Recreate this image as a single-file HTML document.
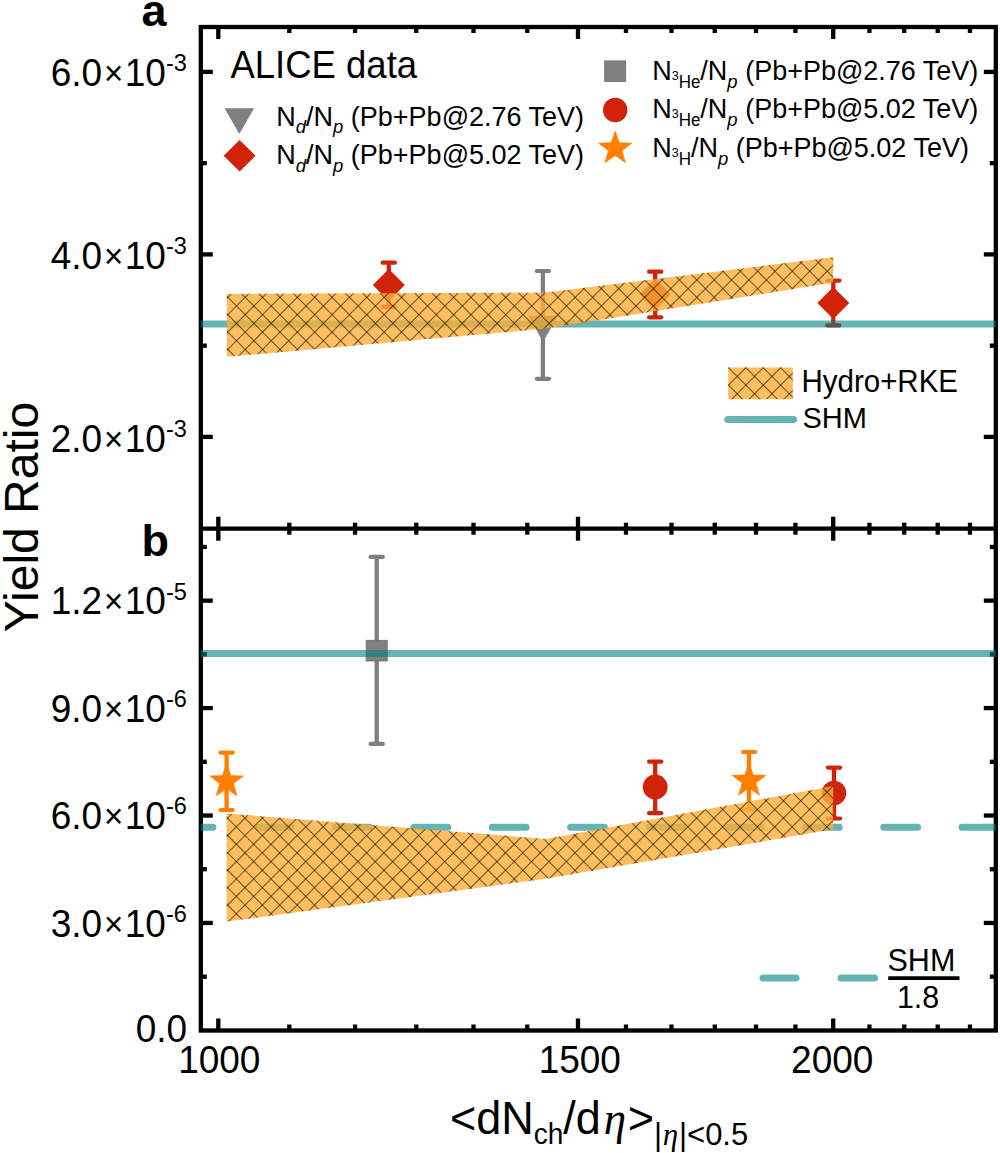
<!DOCTYPE html><html><head><meta charset="utf-8"><style>html,body{margin:0;padding:0;background:#fff;}svg{display:block;}</style></head><body><svg width="1000" height="1153" viewBox="0 0 1000 1153">
<rect width="1000" height="1153" fill="#fff"/>
<rect x="200.8" y="27.0" width="795.0" height="1003.5" fill="none" stroke="#000" stroke-width="4.3"/>
<line x1="200.8" y1="528.7" x2="995.8" y2="528.7" stroke="#000" stroke-width="4.3"/>
<rect x="216.15" y="27.00" width="4.3" height="12.00" fill="#000"/>
<rect x="216.15" y="516.70" width="4.3" height="24.00" fill="#000"/>
<rect x="216.15" y="1018.50" width="4.3" height="12.00" fill="#000"/>
<rect x="575.85" y="27.00" width="4.3" height="12.00" fill="#000"/>
<rect x="575.85" y="516.70" width="4.3" height="24.00" fill="#000"/>
<rect x="575.85" y="1018.50" width="4.3" height="12.00" fill="#000"/>
<rect x="831.06" y="27.00" width="4.3" height="12.00" fill="#000"/>
<rect x="831.06" y="516.70" width="4.3" height="24.00" fill="#000"/>
<rect x="831.06" y="1018.50" width="4.3" height="12.00" fill="#000"/>
<rect x="287.16" y="27.00" width="4.3" height="6.00" fill="#000"/>
<rect x="287.16" y="522.70" width="4.3" height="12.00" fill="#000"/>
<rect x="287.16" y="1024.50" width="4.3" height="6.00" fill="#000"/>
<rect x="352.90" y="27.00" width="4.3" height="6.00" fill="#000"/>
<rect x="352.90" y="522.70" width="4.3" height="12.00" fill="#000"/>
<rect x="352.90" y="1024.50" width="4.3" height="6.00" fill="#000"/>
<rect x="414.11" y="27.00" width="4.3" height="6.00" fill="#000"/>
<rect x="414.11" y="522.70" width="4.3" height="12.00" fill="#000"/>
<rect x="414.11" y="1024.50" width="4.3" height="6.00" fill="#000"/>
<rect x="471.36" y="27.00" width="4.3" height="6.00" fill="#000"/>
<rect x="471.36" y="522.70" width="4.3" height="12.00" fill="#000"/>
<rect x="471.36" y="1024.50" width="4.3" height="6.00" fill="#000"/>
<rect x="525.14" y="27.00" width="4.3" height="6.00" fill="#000"/>
<rect x="525.14" y="522.70" width="4.3" height="12.00" fill="#000"/>
<rect x="525.14" y="1024.50" width="4.3" height="6.00" fill="#000"/>
<rect x="623.82" y="27.00" width="4.3" height="6.00" fill="#000"/>
<rect x="623.82" y="522.70" width="4.3" height="12.00" fill="#000"/>
<rect x="623.82" y="1024.50" width="4.3" height="6.00" fill="#000"/>
<rect x="669.32" y="27.00" width="4.3" height="6.00" fill="#000"/>
<rect x="669.32" y="522.70" width="4.3" height="12.00" fill="#000"/>
<rect x="669.32" y="1024.50" width="4.3" height="6.00" fill="#000"/>
<rect x="712.60" y="27.00" width="4.3" height="6.00" fill="#000"/>
<rect x="712.60" y="522.70" width="4.3" height="12.00" fill="#000"/>
<rect x="712.60" y="1024.50" width="4.3" height="6.00" fill="#000"/>
<rect x="753.87" y="27.00" width="4.3" height="6.00" fill="#000"/>
<rect x="753.87" y="522.70" width="4.3" height="12.00" fill="#000"/>
<rect x="753.87" y="1024.50" width="4.3" height="6.00" fill="#000"/>
<rect x="793.31" y="27.00" width="4.3" height="6.00" fill="#000"/>
<rect x="793.31" y="522.70" width="4.3" height="12.00" fill="#000"/>
<rect x="793.31" y="1024.50" width="4.3" height="6.00" fill="#000"/>
<rect x="867.28" y="27.00" width="4.3" height="6.00" fill="#000"/>
<rect x="867.28" y="522.70" width="4.3" height="12.00" fill="#000"/>
<rect x="867.28" y="1024.50" width="4.3" height="6.00" fill="#000"/>
<rect x="902.07" y="27.00" width="4.3" height="6.00" fill="#000"/>
<rect x="902.07" y="522.70" width="4.3" height="12.00" fill="#000"/>
<rect x="902.07" y="1024.50" width="4.3" height="6.00" fill="#000"/>
<rect x="935.55" y="27.00" width="4.3" height="6.00" fill="#000"/>
<rect x="935.55" y="522.70" width="4.3" height="12.00" fill="#000"/>
<rect x="935.55" y="1024.50" width="4.3" height="6.00" fill="#000"/>
<rect x="967.82" y="27.00" width="4.3" height="6.00" fill="#000"/>
<rect x="967.82" y="522.70" width="4.3" height="12.00" fill="#000"/>
<rect x="967.82" y="1024.50" width="4.3" height="6.00" fill="#000"/>
<rect x="200.80" y="434.75" width="12.00" height="4.3" fill="#000"/>
<rect x="983.80" y="434.75" width="12.00" height="4.3" fill="#000"/>
<rect x="200.80" y="252.25" width="12.00" height="4.3" fill="#000"/>
<rect x="983.80" y="252.25" width="12.00" height="4.3" fill="#000"/>
<rect x="200.80" y="69.75" width="12.00" height="4.3" fill="#000"/>
<rect x="983.80" y="69.75" width="12.00" height="4.3" fill="#000"/>
<rect x="200.80" y="343.50" width="6.00" height="4.3" fill="#000"/>
<rect x="989.80" y="343.50" width="6.00" height="4.3" fill="#000"/>
<rect x="200.80" y="161.00" width="6.00" height="4.3" fill="#000"/>
<rect x="989.80" y="161.00" width="6.00" height="4.3" fill="#000"/>
<rect x="200.80" y="920.81" width="12.00" height="4.3" fill="#000"/>
<rect x="983.80" y="920.81" width="12.00" height="4.3" fill="#000"/>
<rect x="200.80" y="813.37" width="12.00" height="4.3" fill="#000"/>
<rect x="983.80" y="813.37" width="12.00" height="4.3" fill="#000"/>
<rect x="200.80" y="705.93" width="12.00" height="4.3" fill="#000"/>
<rect x="983.80" y="705.93" width="12.00" height="4.3" fill="#000"/>
<rect x="200.80" y="598.49" width="12.00" height="4.3" fill="#000"/>
<rect x="983.80" y="598.49" width="12.00" height="4.3" fill="#000"/>
<rect x="200.80" y="974.53" width="6.00" height="4.3" fill="#000"/>
<rect x="989.80" y="974.53" width="6.00" height="4.3" fill="#000"/>
<rect x="200.80" y="867.09" width="6.00" height="4.3" fill="#000"/>
<rect x="989.80" y="867.09" width="6.00" height="4.3" fill="#000"/>
<rect x="200.80" y="759.65" width="6.00" height="4.3" fill="#000"/>
<rect x="989.80" y="759.65" width="6.00" height="4.3" fill="#000"/>
<rect x="200.80" y="652.21" width="6.00" height="4.3" fill="#000"/>
<rect x="989.80" y="652.21" width="6.00" height="4.3" fill="#000"/>
<rect x="200.80" y="544.77" width="6.00" height="4.3" fill="#000"/>
<rect x="989.80" y="544.77" width="6.00" height="4.3" fill="#000"/>
<clipPath id="pa"><rect x="0" y="0" width="996" height="528.7"/></clipPath>
<g>
<line x1="388.8" y1="262.7" x2="388.8" y2="306.8" stroke="#D0230A" stroke-width="4.3"/><line x1="382.7" y1="262.7" x2="394.90000000000003" y2="262.7" stroke="#D0230A" stroke-width="4.2" stroke-linecap="round"/><line x1="382.7" y1="306.8" x2="394.90000000000003" y2="306.8" stroke="#D0230A" stroke-width="4.2" stroke-linecap="round"/>
<polygon points="388.8,268.9 404.8,284.9 388.8,300.9 372.8,284.9" fill="#D0230A"/>
<line x1="542.9" y1="271.0" x2="542.9" y2="378.8" stroke="#808080" stroke-width="4.3"/><line x1="536.8" y1="271.0" x2="549.0" y2="271.0" stroke="#808080" stroke-width="4.2" stroke-linecap="round"/><line x1="536.8" y1="378.8" x2="549.0" y2="378.8" stroke="#808080" stroke-width="4.2" stroke-linecap="round"/>
<polygon points="528.10,315.8 558.10,315.8 543.10,341.78" fill="#808080"/>
<line x1="655.2" y1="271.7" x2="655.2" y2="317.3" stroke="#D0230A" stroke-width="4.3"/><line x1="649.1" y1="271.7" x2="661.3000000000001" y2="271.7" stroke="#D0230A" stroke-width="4.2" stroke-linecap="round"/><line x1="649.1" y1="317.3" x2="661.3000000000001" y2="317.3" stroke="#D0230A" stroke-width="4.2" stroke-linecap="round"/>
<polygon points="655.2,278.6 670.9000000000001,294.3 655.2,310.0 639.5,294.3" fill="#D0230A"/>
<line x1="833.3" y1="280.6" x2="833.3" y2="325.4" stroke="#D0230A" stroke-width="4.3"/><line x1="827.1999999999999" y1="280.6" x2="839.4" y2="280.6" stroke="#D0230A" stroke-width="4.2" stroke-linecap="round"/><line x1="827.1999999999999" y1="325.4" x2="839.4" y2="325.4" stroke="#D0230A" stroke-width="4.2" stroke-linecap="round"/>
<polygon points="833.3,287.0 849.3,303.0 833.3,319.0 817.3,303.0" fill="#D0230A"/>
<line x1="200.8" y1="324.0" x2="995.8" y2="324.0" stroke="#008080" stroke-opacity="0.6" stroke-width="6.8"/>
<clipPath id="bca"><polygon points="226.80,294.00 545.80,292.50 833.20,257.20 833.20,282.60 545.80,328.60 226.80,356.80"/></clipPath><polygon points="226.80,294.00 545.80,292.50 833.20,257.20 833.20,282.60 545.80,328.60 226.80,356.80" fill="#FCAE37" fill-opacity="0.8"/><g clip-path="url(#bca)"><path d="M221.80,378.15L838.20,994.55M221.80,360.78L838.20,977.18M221.80,343.41L838.20,959.81M221.80,326.04L838.20,942.44M221.80,308.67L838.20,925.07M221.80,291.30L838.20,907.70M221.80,273.93L838.20,890.33M221.80,256.56L838.20,872.96M221.80,239.19L838.20,855.59M221.80,221.82L838.20,838.22M221.80,204.45L838.20,820.85M221.80,187.08L838.20,803.48M221.80,169.71L838.20,786.11M221.80,152.34L838.20,768.74M221.80,134.97L838.20,751.37M221.80,117.60L838.20,734.00M221.80,100.23L838.20,716.63M221.80,82.86L838.20,699.26M221.80,65.49L838.20,681.89M221.80,48.12L838.20,664.52M221.80,30.75L838.20,647.15M221.80,13.38L838.20,629.78M221.80,-3.99L838.20,612.41M221.80,-21.36L838.20,595.04M221.80,-38.73L838.20,577.67M221.80,-56.10L838.20,560.30M221.80,-73.47L838.20,542.93M221.80,-90.84L838.20,525.56M221.80,-108.21L838.20,508.19M221.80,-125.58L838.20,490.82M221.80,-142.95L838.20,473.45M221.80,-160.32L838.20,456.08M221.80,-177.69L838.20,438.71M221.80,-195.06L838.20,421.34M221.80,-212.43L838.20,403.97M221.80,-229.80L838.20,386.60M221.80,-247.17L838.20,369.23M221.80,-264.54L838.20,351.86M221.80,-281.91L838.20,334.49M221.80,-299.28L838.20,317.12M221.80,-316.65L838.20,299.75M221.80,-334.02L838.20,282.38M221.80,-351.39L838.20,265.01M221.80,-368.76L838.20,247.64M221.80,-386.13L838.20,230.27" stroke="#000" stroke-opacity="0.52" stroke-width="1.15" fill="none"/><path d="M221.80,233.87L838.20,-382.53M221.80,251.24L838.20,-365.16M221.80,268.61L838.20,-347.79M221.80,285.98L838.20,-330.42M221.80,303.35L838.20,-313.05M221.80,320.72L838.20,-295.68M221.80,338.09L838.20,-278.31M221.80,355.46L838.20,-260.94M221.80,372.83L838.20,-243.57M221.80,390.20L838.20,-226.20M221.80,407.57L838.20,-208.83M221.80,424.94L838.20,-191.46M221.80,442.31L838.20,-174.09M221.80,459.68L838.20,-156.72M221.80,477.05L838.20,-139.35M221.80,494.42L838.20,-121.98M221.80,511.79L838.20,-104.61M221.80,529.16L838.20,-87.24M221.80,546.53L838.20,-69.87M221.80,563.90L838.20,-52.50M221.80,581.27L838.20,-35.13M221.80,598.64L838.20,-17.76M221.80,616.01L838.20,-0.39M221.80,633.38L838.20,16.98M221.80,650.75L838.20,34.35M221.80,668.12L838.20,51.72M221.80,685.49L838.20,69.09M221.80,702.86L838.20,86.46M221.80,720.23L838.20,103.83M221.80,737.60L838.20,121.20M221.80,754.97L838.20,138.57M221.80,772.34L838.20,155.94M221.80,789.71L838.20,173.31M221.80,807.08L838.20,190.68M221.80,824.45L838.20,208.05M221.80,841.82L838.20,225.42M221.80,859.19L838.20,242.79M221.80,876.56L838.20,260.16M221.80,893.93L838.20,277.53M221.80,911.30L838.20,294.90M221.80,928.67L838.20,312.27M221.80,946.04L838.20,329.64M221.80,963.41L838.20,347.01M221.80,980.78L838.20,364.38M221.80,998.15L838.20,381.75" stroke="#000" stroke-opacity="0.52" stroke-width="1.15" fill="none"/></g>
</g>
<line x1="376.7" y1="556.9" x2="376.7" y2="743.9" stroke="#808080" stroke-width="4.3"/><line x1="370.59999999999997" y1="556.9" x2="382.8" y2="556.9" stroke="#808080" stroke-width="4.2" stroke-linecap="round"/><line x1="370.59999999999997" y1="743.9" x2="382.8" y2="743.9" stroke="#808080" stroke-width="4.2" stroke-linecap="round"/>
<rect x="366.15" y="640.3" width="21.099999999999977" height="20.7" fill="#808080" stroke="#6e6e6e" stroke-width="0.8"/>
<line x1="226.6" y1="752.6" x2="226.6" y2="810.0" stroke="#FF8000" stroke-width="4.3"/><line x1="220.5" y1="752.6" x2="232.7" y2="752.6" stroke="#FF8000" stroke-width="4.2" stroke-linecap="round"/><line x1="220.5" y1="810.0" x2="232.7" y2="810.0" stroke="#FF8000" stroke-width="4.2" stroke-linecap="round"/>
<polygon points="226.60,763.80 230.79,775.63 243.34,775.96 233.38,783.60 236.95,795.64 226.60,788.53 216.25,795.64 219.82,783.60 209.86,775.96 222.41,775.63" fill="#FF8000" stroke="#FF8000" stroke-width="0.8" stroke-linejoin="round"/>
<line x1="655.2" y1="761.6" x2="655.2" y2="813.2" stroke="#D0230A" stroke-width="4.3"/><line x1="649.1" y1="761.6" x2="661.3000000000001" y2="761.6" stroke="#D0230A" stroke-width="4.2" stroke-linecap="round"/><line x1="649.1" y1="813.2" x2="661.3000000000001" y2="813.2" stroke="#D0230A" stroke-width="4.2" stroke-linecap="round"/>
<circle cx="655.2" cy="787.0" r="12.4" fill="#D0230A"/>
<line x1="749.0" y1="752.0" x2="749.0" y2="809.5" stroke="#FF8000" stroke-width="4.3"/><line x1="742.9" y1="752.0" x2="755.1" y2="752.0" stroke="#FF8000" stroke-width="4.2" stroke-linecap="round"/><line x1="742.9" y1="809.5" x2="755.1" y2="809.5" stroke="#FF8000" stroke-width="4.2" stroke-linecap="round"/>
<polygon points="749.00,763.20 753.19,775.03 765.74,775.36 755.78,783.00 759.35,795.04 749.00,787.93 738.65,795.04 742.22,783.00 732.26,775.36 744.81,775.03" fill="#FF8000" stroke="#FF8000" stroke-width="0.8" stroke-linejoin="round"/>
<line x1="834.0" y1="767.6" x2="834.0" y2="818.5" stroke="#D0230A" stroke-width="4.3"/><line x1="827.9" y1="767.6" x2="840.1" y2="767.6" stroke="#D0230A" stroke-width="4.2" stroke-linecap="round"/><line x1="827.9" y1="818.5" x2="840.1" y2="818.5" stroke="#D0230A" stroke-width="4.2" stroke-linecap="round"/>
<circle cx="834.0" cy="793.0" r="12.2" fill="#D0230A"/>
<line x1="200.8" y1="653.6" x2="995.8" y2="653.6" stroke="#008080" stroke-opacity="0.6" stroke-width="7"/>
<clipPath id="pbclip"><rect x="200.8" y="530" width="795.0" height="500"/></clipPath>
<g clip-path="url(#pbclip)"><path d="M179.10,827.3L212.90,827.3M257.40,827.3L291.20,827.3M335.70,827.3L369.50,827.3M414.00,827.3L447.80,827.3M492.30,827.3L526.10,827.3M570.60,827.3L604.40,827.3M648.90,827.3L682.70,827.3M727.20,827.3L761.00,827.3M805.50,827.3L839.30,827.3M883.80,827.3L917.60,827.3M962.10,827.3L995.90,827.3M1040.40,827.3L1074.20,827.3" stroke="#008080" stroke-opacity="0.6" stroke-width="7.0" stroke-linecap="round" fill="none"/></g>
<clipPath id="bcb"><polygon points="226.60,813.50 545.80,838.90 833.20,786.10 833.20,829.30 545.80,878.80 226.60,921.60"/></clipPath><polygon points="226.60,813.50 545.80,838.90 833.20,786.10 833.20,829.30 545.80,878.80 226.60,921.60" fill="#FCAE37" fill-opacity="0.8"/><g clip-path="url(#bcb)"><path d="M221.60,951.12L838.20,1567.72M221.60,933.75L838.20,1550.35M221.60,916.38L838.20,1532.98M221.60,899.01L838.20,1515.61M221.60,881.64L838.20,1498.24M221.60,864.27L838.20,1480.87M221.60,846.90L838.20,1463.50M221.60,829.53L838.20,1446.13M221.60,812.16L838.20,1428.76M221.60,794.79L838.20,1411.39M221.60,777.42L838.20,1394.02M221.60,760.05L838.20,1376.65M221.60,742.68L838.20,1359.28M221.60,725.31L838.20,1341.91M221.60,707.94L838.20,1324.54M221.60,690.57L838.20,1307.17M221.60,673.20L838.20,1289.80M221.60,655.83L838.20,1272.43M221.60,638.46L838.20,1255.06M221.60,621.09L838.20,1237.69M221.60,603.72L838.20,1220.32M221.60,586.35L838.20,1202.95M221.60,568.98L838.20,1185.58M221.60,551.61L838.20,1168.21M221.60,534.24L838.20,1150.84M221.60,516.87L838.20,1133.47M221.60,499.50L838.20,1116.10M221.60,482.13L838.20,1098.73M221.60,464.76L838.20,1081.36M221.60,447.39L838.20,1063.99M221.60,430.02L838.20,1046.62M221.60,412.65L838.20,1029.25M221.60,395.28L838.20,1011.88M221.60,377.91L838.20,994.51M221.60,360.54L838.20,977.14M221.60,343.17L838.20,959.77M221.60,325.80L838.20,942.40M221.60,308.43L838.20,925.03M221.60,291.06L838.20,907.66M221.60,273.69L838.20,890.29M221.60,256.32L838.20,872.92M221.60,238.95L838.20,855.55M221.60,221.58L838.20,838.18M221.60,204.21L838.20,820.81M221.60,186.84L838.20,803.44M221.60,169.47L838.20,786.07M221.60,152.10L838.20,768.70" stroke="#000" stroke-opacity="0.52" stroke-width="1.15" fill="none"/><path d="M221.60,772.05L838.20,155.45M221.60,789.42L838.20,172.82M221.60,806.79L838.20,190.19M221.60,824.16L838.20,207.56M221.60,841.53L838.20,224.93M221.60,858.90L838.20,242.30M221.60,876.27L838.20,259.67M221.60,893.64L838.20,277.04M221.60,911.01L838.20,294.41M221.60,928.38L838.20,311.78M221.60,945.75L838.20,329.15M221.60,963.12L838.20,346.52M221.60,980.49L838.20,363.89M221.60,997.86L838.20,381.26M221.60,1015.23L838.20,398.63M221.60,1032.60L838.20,416.00M221.60,1049.97L838.20,433.37M221.60,1067.34L838.20,450.74M221.60,1084.71L838.20,468.11M221.60,1102.08L838.20,485.48M221.60,1119.45L838.20,502.85M221.60,1136.82L838.20,520.22M221.60,1154.19L838.20,537.59M221.60,1171.56L838.20,554.96M221.60,1188.93L838.20,572.33M221.60,1206.30L838.20,589.70M221.60,1223.67L838.20,607.07M221.60,1241.04L838.20,624.44M221.60,1258.41L838.20,641.81M221.60,1275.78L838.20,659.18M221.60,1293.15L838.20,676.55M221.60,1310.52L838.20,693.92M221.60,1327.89L838.20,711.29M221.60,1345.26L838.20,728.66M221.60,1362.63L838.20,746.03M221.60,1380.00L838.20,763.40M221.60,1397.37L838.20,780.77M221.60,1414.74L838.20,798.14M221.60,1432.11L838.20,815.51M221.60,1449.48L838.20,832.88M221.60,1466.85L838.20,850.25M221.60,1484.22L838.20,867.62M221.60,1501.59L838.20,884.99M221.60,1518.96L838.20,902.36M221.60,1536.33L838.20,919.73M221.60,1553.70L838.20,937.10" stroke="#000" stroke-opacity="0.52" stroke-width="1.15" fill="none"/></g>
<polygon points="224.50,108.3 254.10,108.3 239.30,133.93" fill="#808080"/>
<polygon points="239.6,140.0 255.6,155.7 239.6,171.39999999999998 223.6,155.7" fill="#D0230A"/>
<rect x="604.6999999999999" y="60.9" width="21.000000000000068" height="20.600000000000005" fill="#808080" stroke="#6e6e6e" stroke-width="0.8"/>
<circle cx="615.2" cy="110.0" r="12.2" fill="#D0230A"/>
<polygon points="615.20,131.20 619.32,142.83 631.65,143.15 621.86,150.67 625.37,162.50 615.20,155.51 605.03,162.50 608.54,150.67 598.75,143.15 611.08,142.83" fill="#FF8000" stroke="#FF8000" stroke-width="0.8" stroke-linejoin="round"/>
<clipPath id="bcl"><polygon points="728.20,367.60 792.80,367.60 792.80,399.20 728.20,399.20"/></clipPath><polygon points="728.20,367.60 792.80,367.60 792.80,399.20 728.20,399.20" fill="#FCAE37" fill-opacity="0.8"/><g clip-path="url(#bcl)"><path d="M723.20,414.51L797.80,489.11M723.20,397.14L797.80,471.74M723.20,379.77L797.80,454.37M723.20,362.40L797.80,437.00M723.20,345.03L797.80,419.63M723.20,327.66L797.80,402.26M723.20,310.29L797.80,384.89M723.20,292.92L797.80,367.52M723.20,275.55L797.80,350.15" stroke="#000" stroke-opacity="0.52" stroke-width="1.15" fill="none"/><path d="M723.20,338.29L797.80,263.69M723.20,355.66L797.80,281.06M723.20,373.03L797.80,298.43M723.20,390.40L797.80,315.80M723.20,407.77L797.80,333.17M723.20,425.14L797.80,350.54M723.20,442.51L797.80,367.91M723.20,459.88L797.80,385.28M723.20,477.25L797.80,402.65M723.20,494.62L797.80,420.02" stroke="#000" stroke-opacity="0.52" stroke-width="1.15" fill="none"/></g>
<line x1="727.8" y1="419.4" x2="793.5" y2="419.4" stroke="#008080" stroke-opacity="0.6" stroke-width="7" stroke-linecap="round"/>
<path d="M763,977.9L796,977.9M841,977.9L874.5,977.9" stroke="#008080" stroke-opacity="0.6" stroke-width="7" stroke-linecap="round"/>
<text transform="translate(141.5,25.5) scale(1,1.0)" font-size="45" text-anchor="start" font-family="Liberation Sans" font-weight="bold">a</text>
<text transform="translate(141.5,555.5) scale(1,1.0)" font-size="45" text-anchor="start" font-family="Liberation Sans" font-weight="bold">b</text>
<text transform="translate(186.8,85.85) scale(1,1.04)" font-size="37" text-anchor="end" font-family="Liberation Sans">6.0<tspan font-size="33" dx="1.7" dy="-0.8">×</tspan><tspan dx="1.6" dy="0.8">10</tspan><tspan dy="-14.1" font-size="23.5">-3</tspan></text>
<text transform="translate(186.8,269.15) scale(1,1.04)" font-size="37" text-anchor="end" font-family="Liberation Sans">4.0<tspan font-size="33" dx="1.7" dy="-0.8">×</tspan><tspan dx="1.6" dy="0.8">10</tspan><tspan dy="-14.1" font-size="23.5">-3</tspan></text>
<text transform="translate(186.8,451.75) scale(1,1.04)" font-size="37" text-anchor="end" font-family="Liberation Sans">2.0<tspan font-size="33" dx="1.7" dy="-0.8">×</tspan><tspan dx="1.6" dy="0.8">10</tspan><tspan dy="-14.1" font-size="23.5">-3</tspan></text>
<text transform="translate(186.8,614.25) scale(1,1.04)" font-size="37" text-anchor="end" font-family="Liberation Sans">1.2<tspan font-size="33" dx="1.7" dy="-0.8">×</tspan><tspan dx="1.6" dy="0.8">10</tspan><tspan dy="-14.1" font-size="23.5">-5</tspan></text>
<text transform="translate(186.8,721.75) scale(1,1.04)" font-size="37" text-anchor="end" font-family="Liberation Sans">9.0<tspan font-size="33" dx="1.7" dy="-0.8">×</tspan><tspan dx="1.6" dy="0.8">10</tspan><tspan dy="-14.1" font-size="23.5">-6</tspan></text>
<text transform="translate(186.8,829.15) scale(1,1.04)" font-size="37" text-anchor="end" font-family="Liberation Sans">6.0<tspan font-size="33" dx="1.7" dy="-0.8">×</tspan><tspan dx="1.6" dy="0.8">10</tspan><tspan dy="-14.1" font-size="23.5">-6</tspan></text>
<text transform="translate(186.8,937.05) scale(1,1.04)" font-size="37" text-anchor="end" font-family="Liberation Sans">3.0<tspan font-size="33" dx="1.7" dy="-0.8">×</tspan><tspan dx="1.6" dy="0.8">10</tspan><tspan dy="-14.1" font-size="23.5">-6</tspan></text>
<text transform="translate(187.2,1041.9) scale(1,1.04)" font-size="37" text-anchor="end" font-family="Liberation Sans" >0.0</text>
<text transform="translate(219.3,1073.1) scale(1,1.04)" font-size="37" text-anchor="middle" font-family="Liberation Sans" >1000</text>
<text transform="translate(579.8,1073.1) scale(1,1.04)" font-size="37" text-anchor="middle" font-family="Liberation Sans" >1500</text>
<text transform="translate(832.21,1073.1) scale(1,1.04)" font-size="37" text-anchor="middle" font-family="Liberation Sans" >2000</text>
<text x="0" y="0" font-size="48" text-anchor="middle" font-family="Liberation Sans" transform="translate(37.7,517) rotate(-90)">Yield Ratio</text>
<text transform="translate(450,1133.5) scale(1,1.04)" font-size="45" font-family="Liberation Sans">&lt;dN<tspan font-size="28" dy="10">ch</tspan><tspan dy="-10">/d</tspan><tspan font-family="Liberation Serif" font-style="italic" dx="3">η</tspan><tspan dx="1.5">&gt;</tspan><tspan font-size="31" dy="11">|<tspan font-family="Liberation Serif" font-style="italic" dx="0.8">η</tspan><tspan dx="0.8">|&lt;0.5</tspan></tspan></text>
<text transform="translate(230.5,78) scale(1,1.04)" font-size="36.5" text-anchor="start" font-family="Liberation Sans" >ALICE data</text>
<text transform="translate(276.3,125.5) scale(1,1.04)" font-size="27" font-family="Liberation Sans">N<tspan font-size="18.5" dy="7.3" font-style="italic">d</tspan><tspan dy="-7.3">/N</tspan><tspan font-size="18.5" dy="7.3" font-style="italic">p</tspan><tspan dy="-7.3"> (Pb+Pb@2.76 TeV)</tspan></text>
<text transform="translate(276.3,164.0) scale(1,1.04)" font-size="27" font-family="Liberation Sans">N<tspan font-size="18.5" dy="7.3" font-style="italic">d</tspan><tspan dy="-7.3">/N</tspan><tspan font-size="18.5" dy="7.3" font-style="italic">p</tspan><tspan dy="-7.3"> (Pb+Pb@5.02 TeV)</tspan></text>
<text transform="translate(652.2,80.0) scale(1,1.04)" font-size="27" font-family="Liberation Sans">N<tspan font-size="12.5" dy="0">3</tspan><tspan font-size="17" dy="7.3">He</tspan><tspan dy="-7.3">/N</tspan><tspan font-size="18.5" dy="7.3" font-style="italic">p</tspan><tspan dy="-7.3"> (Pb+Pb@2.76 TeV)</tspan></text>
<text transform="translate(652.2,118.4) scale(1,1.04)" font-size="27" font-family="Liberation Sans">N<tspan font-size="12.5" dy="0">3</tspan><tspan font-size="17" dy="7.3">He</tspan><tspan dy="-7.3">/N</tspan><tspan font-size="18.5" dy="7.3" font-style="italic">p</tspan><tspan dy="-7.3"> (Pb+Pb@5.02 TeV)</tspan></text>
<text transform="translate(652.2,157.0) scale(1,1.04)" font-size="27" font-family="Liberation Sans">N<tspan font-size="12.5" dy="0">3</tspan><tspan font-size="17" dy="7.3">H</tspan><tspan dy="-7.3">/N</tspan><tspan font-size="18.5" dy="7.3" font-style="italic">p</tspan><tspan dy="-7.3"> (Pb+Pb@5.02 TeV)</tspan></text>
<text transform="translate(801.5,391.9) scale(1,1.04)" font-size="29.5" text-anchor="start" font-family="Liberation Sans" >Hydro+RKE</text>
<text transform="translate(802.4,428.0) scale(1,1.04)" font-size="29" text-anchor="start" font-family="Liberation Sans" >SHM</text>
<text transform="translate(921.4,970.9) scale(1,1.04)" font-size="30.5" text-anchor="middle" font-family="Liberation Sans" >SHM</text>
<text transform="translate(918.1,1008.0) scale(1,1.04)" font-size="30.5" text-anchor="middle" font-family="Liberation Sans" >1.8</text>
<rect x="888.25" y="976.25" width="71.25" height="3.75" fill="#000"/>
</svg></body></html>
